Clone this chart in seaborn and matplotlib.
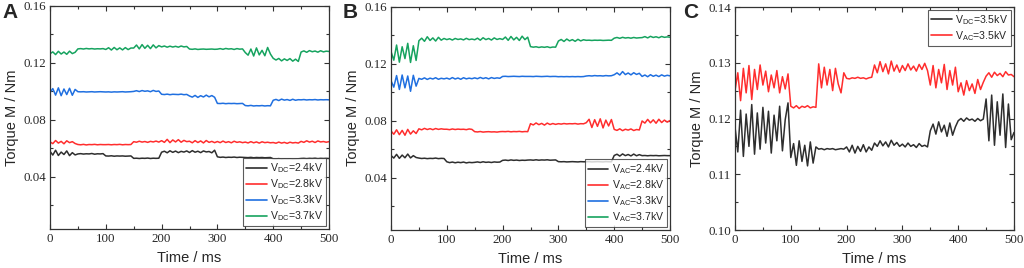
import numpy as np
import pandas as pd
import matplotlib
matplotlib.use("Agg")
import matplotlib.pyplot as plt
from matplotlib.ticker import MultipleLocator
import seaborn as sns

# ---------------- data (torque in mN·m, sampled every 5 ms) ----------------
time_ms = list(range(0, 501, 5))

a_dc24 = [57.8, 55.2, 58.6, 54.9, 57.3, 55.6, 58.1, 54.8, 56.9, 55.3,
          56.0, 56.2, 55.9, 56.1, 56.0, 56.3, 55.8, 56.1, 56.0, 56.2,
          54.6, 54.5, 54.7, 54.4, 54.6, 54.5, 54.6, 54.4, 54.5, 54.6,
          52.9, 53.0, 52.8, 53.0, 52.9, 53.1, 52.8, 53.0, 52.9, 53.0,
          57.2, 57.9, 56.8, 58.2, 57.1, 58.0, 56.9, 57.8, 57.3, 58.1,
          57.0, 58.3, 57.2, 57.9, 56.9, 58.1, 57.4, 57.7, 56.8, 58.6,
          54.0, 53.6, 53.8, 53.5, 53.7, 53.6, 53.8, 53.5, 53.7, 53.6,
          53.5, 53.4, 53.6, 53.3, 53.5, 53.4, 53.5, 53.3, 53.4, 53.5,
          52.6, 52.5, 52.7, 52.4, 52.6, 52.5, 52.6, 52.4, 52.5, 52.6,
          52.8, 52.9, 52.7, 52.9, 52.8, 53.0, 52.7, 52.9, 52.8, 52.9,
          52.8]
a_dc28 = [64.5, 63.2, 65.4, 63.6, 64.8, 63.1, 65.2, 63.9, 64.6, 63.3,
          62.6, 62.4, 62.7, 62.3, 62.6, 62.5, 62.7, 62.4, 62.6, 62.5,
          62.5, 62.6, 62.4, 62.6, 62.5, 62.7, 62.4, 62.6, 62.5, 62.6,
          64.6, 64.2, 64.9, 64.3, 64.7, 64.1, 64.8, 64.4, 65.0, 64.3,
          65.3, 64.1, 66.2, 63.9, 65.8, 64.4, 66.0, 64.2, 65.5, 64.6,
          64.9, 63.8, 65.3, 64.0, 65.1, 63.7, 65.4, 64.1, 64.8, 63.9,
          64.7, 63.9, 65.0, 64.0, 64.6, 63.8, 64.9, 64.1, 64.5, 63.9,
          64.3, 63.7, 64.6, 63.8, 64.4, 63.6, 64.5, 63.9, 64.2, 63.8,
          64.0, 63.5, 64.3, 63.6, 64.1, 63.4, 64.2, 63.7, 64.0, 63.6,
          64.8, 64.1, 65.2, 64.3, 64.9, 64.0, 65.1, 64.4, 64.7, 64.2,
          64.6]
a_dc33 = [99.0, 101.8, 97.2, 102.3, 96.8, 101.5, 97.6, 102.0, 97.1, 101.2,
          99.6, 99.5, 99.6, 99.4, 99.5, 99.6, 99.4, 99.5, 99.6, 99.5,
          99.4, 99.5, 99.3, 99.5, 99.4, 99.5, 99.6, 99.4, 99.5, 99.6,
          99.8, 100.3, 99.7, 100.4, 99.9, 100.2, 99.6, 100.5, 99.8, 100.1,
          97.8, 97.6, 97.9, 97.5, 97.8, 97.7, 97.6, 97.9, 97.5, 97.7,
          96.6, 95.8, 97.0, 95.6, 96.8, 95.9, 97.2, 96.0, 96.9, 95.7,
          91.4, 91.3, 91.5, 91.2, 91.4, 91.3, 91.4, 91.2, 91.3, 91.4,
          89.9, 89.7, 90.0, 89.6, 89.8, 89.7, 89.9, 89.6, 89.8, 89.7,
          93.6, 94.2, 93.4, 94.4, 93.7, 94.1, 93.5, 94.3, 93.6, 94.0,
          93.9, 94.1, 93.8, 94.0, 93.9, 94.1, 93.8, 94.0, 93.9, 94.0,
          93.9]
a_dc37 = [126.2, 127.5, 125.6, 127.9, 126.0, 127.4, 125.8, 128.0, 126.3, 127.2,
          129.6, 129.8, 129.5, 129.9, 129.6, 129.8, 129.5, 129.7, 129.6, 129.8,
          129.2, 130.4, 128.8, 130.6, 129.0, 130.3, 128.9, 130.5, 129.1, 130.2,
          130.2, 132.3, 129.6, 132.6, 130.0, 132.1, 129.8, 132.4, 130.3, 131.9,
          131.0, 131.6, 130.8, 131.5, 130.9, 131.4, 130.8, 131.6, 131.0, 131.3,
          129.5, 129.3, 129.6, 129.2, 129.4, 129.5, 129.3, 129.4, 129.5, 129.3,
          129.4, 129.8, 129.3, 129.9, 129.5, 129.7, 129.2, 129.8, 129.4, 129.6,
          127.0, 125.2, 129.5, 124.6, 130.3, 125.4, 128.6, 124.8, 130.6, 126.0,
          123.0, 121.8, 122.9, 121.2, 122.6, 121.5, 122.8, 121.0, 122.4, 120.8,
          127.4, 128.2, 127.2, 128.4, 127.6, 128.1, 127.3, 128.3, 127.5, 128.0,
          127.8]

b_ac24 = [55.6, 53.8, 56.4, 53.6, 55.9, 54.0, 56.6, 53.9, 55.5, 54.2,
          53.8, 53.5, 53.7, 53.4, 53.6, 53.5, 53.8, 53.4, 53.6, 53.5,
          51.2, 50.6, 51.0, 50.5, 50.9, 50.6, 51.0, 50.4, 50.8, 50.6,
          50.8, 51.1, 50.7, 51.2, 50.8, 51.0, 50.7, 51.1, 50.9, 51.0,
          52.2, 52.4, 52.1, 52.5, 52.2, 52.4, 52.1, 52.3, 52.2, 52.4,
          52.5, 52.3, 52.6, 52.3, 52.5, 52.4, 52.6, 52.3, 52.4, 52.5,
          51.3, 51.2, 51.3, 51.1, 51.2, 51.3, 51.2, 51.1, 51.3, 51.2,
          51.2, 51.3, 51.1, 51.2, 51.3, 51.2, 51.1, 51.3, 51.2, 51.2,
          55.6, 56.5, 55.2, 56.7, 55.5, 56.3, 55.3, 56.6, 55.4, 56.2,
          55.5, 55.6, 55.4, 55.6, 55.5, 55.6, 55.4, 55.5, 55.6, 55.5,
          55.5]
b_ac28 = [72.8, 70.5, 73.6, 70.2, 73.2, 69.8, 73.9, 70.6, 72.9, 71.0,
          74.3, 73.6, 74.6, 73.8, 74.4, 73.7, 74.5, 73.9, 74.3, 74.0,
          74.0, 73.7, 74.2, 73.8, 74.1, 73.9, 74.0, 73.7, 74.2, 73.9,
          72.3, 72.1, 72.4, 72.0, 72.2, 72.3, 72.1, 72.2, 72.0, 72.3,
          72.4, 72.3, 72.5, 72.2, 72.4, 72.3, 72.5, 72.2, 72.4, 72.3,
          77.9, 77.0, 78.4, 77.2, 78.1, 76.9, 78.3, 77.3, 78.0, 77.4,
          77.9, 77.6, 78.0, 77.7, 77.9, 77.8, 78.0, 77.6, 77.9, 77.8,
          78.6, 81.0, 75.2, 80.7, 76.0, 81.3, 74.9, 80.4, 76.3, 80.8,
          73.9, 73.2, 74.3, 73.0, 74.0, 73.4, 74.2, 73.1, 73.8, 73.5,
          79.8, 78.3, 80.9, 78.5, 80.6, 78.2, 81.0, 78.7, 80.4, 79.0,
          80.1]
b_ac33 = [108.0, 103.5, 111.6, 101.9, 112.0, 103.0, 111.3, 100.6, 111.8, 104.2,
          109.6, 109.0, 110.0, 108.9, 109.8, 109.2, 110.1, 109.0, 109.7, 109.3,
          109.8, 109.1, 110.2, 109.2, 109.9, 109.0, 110.1, 109.3, 109.8, 109.4,
          110.0, 109.4, 110.3, 109.5, 110.1, 109.3, 110.2, 109.6, 110.0, 109.7,
          111.0, 111.1, 110.9, 111.0, 111.1, 111.0, 110.9, 111.1, 111.0, 111.0,
          111.0, 110.9, 111.1, 111.0, 110.9, 111.0, 111.1, 110.9, 111.0, 111.0,
          110.8, 110.9, 110.8, 110.9, 110.8, 110.9, 110.8, 110.9, 110.8, 110.9,
          111.3, 111.5, 111.3, 111.6, 111.4, 111.5, 111.3, 111.6, 111.4, 111.5,
          112.2, 113.5, 112.0, 114.4, 112.3, 113.4, 112.1, 113.6, 112.4, 113.2,
          111.0, 112.0, 110.8, 112.2, 111.1, 111.9, 110.9, 112.1, 111.2, 111.8,
          111.4]
b_ac37 = [128.5, 122.4, 133.0, 121.0, 131.8, 123.5, 134.2, 120.8, 132.5, 122.2,
          136.0, 137.8, 135.6, 138.8, 136.2, 138.0, 135.8, 138.4, 136.4, 137.6,
          136.8, 137.4, 136.5, 137.6, 136.9, 137.3, 136.6, 137.7, 136.8, 137.2,
          136.7, 137.8, 136.4, 138.1, 136.8, 137.6, 136.5, 138.0, 136.9, 137.5,
          136.9, 138.6, 136.3, 139.0, 136.6, 138.4, 136.2, 139.2, 136.8, 138.5,
          131.9, 131.5, 131.8, 131.3, 131.7, 131.4, 131.8, 131.2, 131.6, 131.5,
          135.8, 136.9, 135.5, 137.2, 135.9, 136.8, 135.6, 137.0, 135.9, 136.7,
          136.3, 136.4, 136.2, 136.4, 136.3, 136.4, 136.2, 136.3, 136.4, 136.3,
          137.8, 138.3, 137.7, 138.4, 137.9, 138.2, 137.8, 138.3, 137.9, 138.1,
          138.2, 138.9, 138.0, 139.1, 138.3, 138.8, 138.1, 139.0, 138.4, 138.7,
          138.5]

c_dc35 = [118.5, 114.0, 121.5, 113.2, 120.8, 115.0, 122.5, 113.6, 121.0, 114.5,
          122.0, 115.6, 121.3, 113.8, 120.6, 116.0, 122.2, 114.2, 119.8, 122.8,
          113.0, 115.5, 111.6, 116.0, 112.3, 115.2, 111.5, 115.8, 112.0, 114.9,
          114.5, 114.6, 114.4, 114.6, 114.5, 114.6, 114.4, 114.5, 114.6, 114.5,
          114.9, 114.0, 115.2, 113.8, 115.0, 114.1, 115.3, 114.0, 114.9, 114.3,
          115.6, 115.0, 116.0, 115.1, 115.8, 114.9, 116.1, 115.2, 115.7, 115.0,
          115.4, 114.9, 115.6, 115.0, 115.3, 114.8, 115.5, 115.0, 115.2, 114.9,
          117.8, 119.0, 117.2, 119.4, 117.6, 118.8, 116.8, 119.2, 117.0, 118.5,
          119.6, 120.0, 119.5, 120.1, 119.7, 119.9, 119.5, 120.0, 119.6, 119.9,
          123.5, 116.0, 124.2, 115.2, 123.0, 117.0, 124.4, 114.8, 122.6, 116.2,
          117.5]
c_ac35 = [125.0, 128.2, 123.2, 129.0, 124.6, 129.5, 123.4, 128.8, 125.2, 129.6,
          126.0, 128.5, 124.8, 127.8, 125.5, 128.6, 124.6, 127.5, 125.3, 128.0,
          122.2, 121.9, 122.3, 121.8, 122.2, 122.0, 122.3, 121.9, 122.1, 122.0,
          129.8, 125.5, 129.2, 126.0, 128.8, 125.0, 129.0, 126.2, 124.6, 128.2,
          127.2, 127.1, 127.3, 127.2, 127.4, 127.2, 127.3, 127.1, 127.3, 127.4,
          129.6, 128.2, 130.2, 128.4, 129.8, 128.0, 130.3, 128.5, 129.6, 128.3,
          129.5, 128.6, 129.8, 128.7, 129.4, 128.5, 129.7, 128.8, 129.9, 128.6,
          126.0, 129.5, 125.5, 128.8, 126.4, 129.7, 125.2, 128.6, 126.0, 129.2,
          124.8, 126.4, 124.2, 126.8, 125.0, 126.2, 124.5, 127.0, 125.2, 126.5,
          127.6, 128.2, 127.4, 128.3, 127.7, 128.1, 127.5, 128.4, 127.8, 127.9,
          127.5]

labels_a = [r"V$_\mathregular{DC}$=2.4kV", r"V$_\mathregular{DC}$=2.8kV",
            r"V$_\mathregular{DC}$=3.3kV", r"V$_\mathregular{DC}$=3.7kV"]
labels_b = [r"V$_\mathregular{AC}$=2.4kV", r"V$_\mathregular{AC}$=2.8kV",
            r"V$_\mathregular{AC}$=3.3kV", r"V$_\mathregular{AC}$=3.7kV"]
labels_c = [r"V$_\mathregular{DC}$=3.5kV", r"V$_\mathregular{AC}$=3.5kV"]
colors4 = ["#2e2e2e", "#ff2d2d", "#1f6fe0", "#16a35f"]
colors2 = ["#2e2e2e", "#ff2d2d"]

# ---------------- style ----------------
sns.set_style("ticks")
plt.rcParams["font.family"] = ["Liberation Sans", "DejaVu Sans"]
plt.rcParams["mathtext.fontset"] = "custom"
plt.rcParams["mathtext.rm"] = "Liberation Sans"
plt.rcParams["mathtext.it"] = "Liberation Sans:italic"

fig = plt.figure(figsize=(10.24, 2.68), dpi=100)
W = 279 / 1024
H = 223.5 / 268
ax_a = fig.add_axes([50 / 1024, 39 / 268, W, H])
ax_b = fig.add_axes([391 / 1024, 38 / 268, W, H])
ax_c = fig.add_axes([735 / 1024, 38 / 268, W, 223 / 268])


def draw(ax, series, labels, colors):
    frames = []
    for vals, lab in zip(series, labels):
        frames.append(pd.DataFrame({"t": time_ms,
                                    "M": np.asarray(vals) / 1000.0,
                                    "s": lab}))
    df = pd.concat(frames, ignore_index=True)
    sns.lineplot(data=df, x="t", y="M", hue="s", palette=colors,
                 hue_order=labels, estimator=None, sort=False,
                 linewidth=1.1, ax=ax, legend=True)


draw(ax_a, [a_dc24, a_dc28, a_dc33, a_dc37], labels_a, colors4)
draw(ax_b, [b_ac24, b_ac28, b_ac33, b_ac37], labels_b, colors4)
draw(ax_c, [c_dc35, c_ac35], labels_c, colors2)

for ax in (ax_a, ax_b):
    ax.set_ylim(0.0034, 0.16)
    ax.set_yticks([0.04, 0.08, 0.12, 0.16])
    ax.set_yticklabels(["0.04", "0.08", "0.12", "0.16"])
    ax.yaxis.set_minor_locator(MultipleLocator(0.02))
ax_c.set_ylim(0.10, 0.14)
ax_c.set_yticks([0.10, 0.11, 0.12, 0.13, 0.14])
ax_c.set_yticklabels(["0.10", "0.11", "0.12", "0.13", "0.14"])
ax_c.yaxis.set_minor_locator(MultipleLocator(0.005))

for ax in (ax_a, ax_b, ax_c):
    ax.set_xlim(0, 500)
    ax.set_xticks([0, 100, 200, 300, 400, 500])
    ax.set_xticklabels(["0", "100", "200", "300", "400", "500"])
    ax.xaxis.set_minor_locator(MultipleLocator(50))
    ax.tick_params(which="both", direction="in", top=True, right=True,
                   color="#333333", width=0.8)
    ax.tick_params(which="major", length=3.5, labelsize=9.3, pad=3)
    ax.tick_params(which="minor", length=2)
    for lab in ax.get_xticklabels() + ax.get_yticklabels():
        lab.set_fontfamily("Liberation Serif")
    for sp in ax.spines.values():
        sp.set_color("#333333")
        sp.set_linewidth(0.9)
    ax.set_xlabel("Time / ms", fontsize=10.5, labelpad=4)
    ax.set_ylabel("Torque M / Nm", fontsize=10.5, labelpad=3)

leg_kw = dict(fontsize=7.6, frameon=True, fancybox=False, handlelength=1.9,
              handletextpad=0.35, labelspacing=0.2, borderpad=0.3,
              borderaxespad=0.25, title=None)
for ax, loc in ((ax_a, "lower right"), (ax_b, "lower right"),
                (ax_c, "upper right")):
    leg = ax.legend(loc=loc, **leg_kw)
    leg.get_frame().set_edgecolor("#333333")
    leg.get_frame().set_linewidth(0.8)
    for ln in leg.get_lines():
        ln.set_linewidth(1.2)

fig.text(2 / 1024, 1 - 3 / 268, "A", fontsize=15, fontweight="bold",
         va="top", ha="left")
fig.text(343 / 1024, 1 - 3 / 268, "B", fontsize=15, fontweight="bold",
         va="top", ha="left")
fig.text(683 / 1024, 1 - 3 / 268, "C", fontsize=15, fontweight="bold",
         va="top", ha="left")

fig.savefig("out.png", dpi=100)
